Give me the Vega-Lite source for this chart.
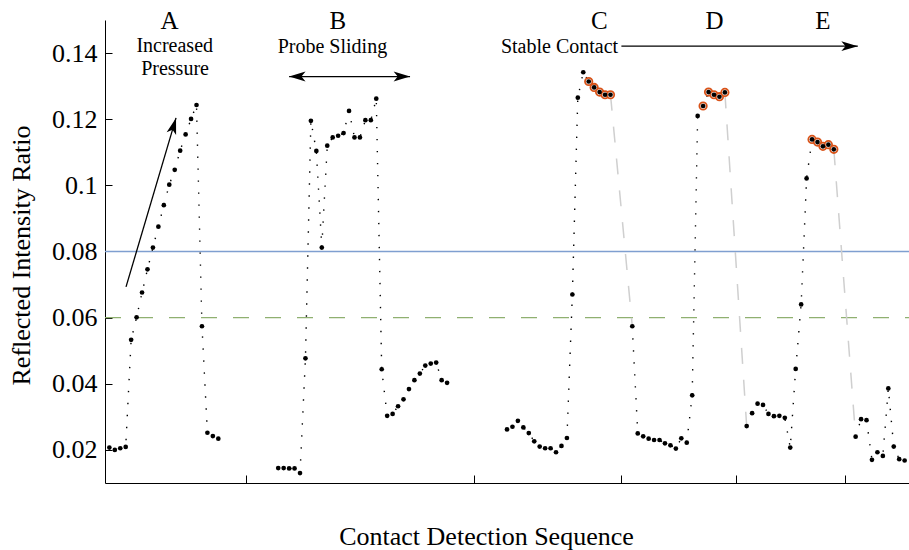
{
  "$schema": "https://vega.github.io/schema/vega-lite/v6.json",
  "width": 804,
  "height": 463,
  "autosize": {"type": "none"},
  "padding": {"left": 105, "top": 20, "right": 0, "bottom": 67},
  "background": "white",
  "config": {"view": {"stroke": null}, "font": "Liberation Serif"},
  "datasets": {
    "pts": [
      {"i":0,"v":0.0207,"g":"A","hl":0},{"i":1,"v":0.0200,"g":"A","hl":0},{"i":2,"v":0.0205,"g":"A","hl":0},{"i":3,"v":0.0209,"g":"A","hl":0},
      {"i":4,"v":0.0533,"g":"A","hl":0},{"i":5,"v":0.0601,"g":"A","hl":0},{"i":6,"v":0.0676,"g":"A","hl":0},{"i":7,"v":0.0746,"g":"A","hl":0},
      {"i":8,"v":0.0812,"g":"A","hl":0},{"i":9,"v":0.0875,"g":"A","hl":0},{"i":10,"v":0.0940,"g":"A","hl":0},{"i":11,"v":0.1002,"g":"A","hl":0},
      {"i":12,"v":0.1047,"g":"A","hl":0},{"i":13,"v":0.1105,"g":"A","hl":0},{"i":14,"v":0.1154,"g":"A","hl":0},{"i":15,"v":0.1201,"g":"A","hl":0},
      {"i":16,"v":0.1243,"g":"A","hl":0},{"i":17,"v":0.0574,"g":"A","hl":0},{"i":18,"v":0.0252,"g":"A","hl":0},{"i":19,"v":0.0242,"g":"A","hl":0},
      {"i":20,"v":0.0234,"g":"A","hl":0},
      {"i":31,"v":0.0145,"g":"B","hl":0},{"i":32,"v":0.0145,"g":"B","hl":0},{"i":33,"v":0.0144,"g":"B","hl":0},{"i":34,"v":0.0144,"g":"B","hl":0},
      {"i":35,"v":0.0130,"g":"B","hl":0},{"i":36,"v":0.0477,"g":"B","hl":0},{"i":37,"v":0.1195,"g":"B","hl":0},{"i":38,"v":0.1104,"g":"B","hl":0},
      {"i":39,"v":0.0812,"g":"B","hl":0},{"i":40,"v":0.1120,"g":"B","hl":0},{"i":41,"v":0.1145,"g":"B","hl":0},{"i":42,"v":0.1150,"g":"B","hl":0},
      {"i":43,"v":0.1158,"g":"B","hl":0},{"i":44,"v":0.1225,"g":"B","hl":0},{"i":45,"v":0.1145,"g":"B","hl":0},{"i":46,"v":0.1145,"g":"B","hl":0},
      {"i":47,"v":0.1197,"g":"B","hl":0},{"i":48,"v":0.1197,"g":"B","hl":0},{"i":49,"v":0.1262,"g":"B","hl":0},{"i":50,"v":0.0444,"g":"B","hl":0},
      {"i":51,"v":0.0303,"g":"B","hl":0},{"i":52,"v":0.0309,"g":"B","hl":0},{"i":53,"v":0.0332,"g":"B","hl":0},{"i":54,"v":0.0353,"g":"B","hl":0},
      {"i":55,"v":0.0384,"g":"B","hl":0},{"i":56,"v":0.0411,"g":"B","hl":0},{"i":57,"v":0.0431,"g":"B","hl":0},{"i":58,"v":0.0455,"g":"B","hl":0},
      {"i":59,"v":0.0461,"g":"B","hl":0},{"i":60,"v":0.0464,"g":"B","hl":0},{"i":61,"v":0.0411,"g":"B","hl":0},{"i":62,"v":0.0403,"g":"B","hl":0},
      {"i":73,"v":0.0262,"g":"C","hl":0},{"i":74,"v":0.0270,"g":"C","hl":0},{"i":75,"v":0.0288,"g":"C","hl":0},{"i":76,"v":0.0268,"g":"C","hl":0},
      {"i":77,"v":0.0251,"g":"C","hl":0},{"i":78,"v":0.0226,"g":"C","hl":0},{"i":79,"v":0.0210,"g":"C","hl":0},{"i":80,"v":0.0205,"g":"C","hl":0},
      {"i":81,"v":0.0205,"g":"C","hl":0},{"i":82,"v":0.0193,"g":"C","hl":0},{"i":83,"v":0.0212,"g":"C","hl":0},{"i":84,"v":0.0236,"g":"C","hl":0},
      {"i":85,"v":0.0670,"g":"C","hl":0},{"i":86,"v":0.1265,"g":"C","hl":0},{"i":87,"v":0.1342,"g":"C","hl":0},{"i":88,"v":0.1314,"g":"C","hl":1},
      {"i":89,"v":0.1296,"g":"C","hl":1},{"i":90,"v":0.1282,"g":"C","hl":1},{"i":91,"v":0.1274,"g":"C","hl":1},{"i":92,"v":0.1274,"g":"C","hl":1},
      {"i":96,"v":0.0574,"g":"D","hl":0},{"i":97,"v":0.0250,"g":"D","hl":0},{"i":98,"v":0.0241,"g":"D","hl":0},{"i":99,"v":0.0234,"g":"D","hl":0},
      {"i":100,"v":0.0230,"g":"D","hl":0},{"i":101,"v":0.0230,"g":"D","hl":0},{"i":102,"v":0.0220,"g":"D","hl":0},{"i":103,"v":0.0214,"g":"D","hl":0},
      {"i":104,"v":0.0204,"g":"D","hl":0},{"i":105,"v":0.0235,"g":"D","hl":0},{"i":106,"v":0.0222,"g":"D","hl":0},{"i":107,"v":0.0365,"g":"D","hl":0},
      {"i":108,"v":0.1210,"g":"D","hl":0},{"i":109,"v":0.1240,"g":"D","hl":1},{"i":110,"v":0.1282,"g":"D","hl":1},{"i":111,"v":0.1274,"g":"D","hl":1},
      {"i":112,"v":0.1268,"g":"D","hl":1},{"i":113,"v":0.1281,"g":"D","hl":1},
      {"i":117,"v":0.0272,"g":"E","hl":0},{"i":118,"v":0.0311,"g":"E","hl":0},{"i":119,"v":0.0340,"g":"E","hl":0},{"i":120,"v":0.0336,"g":"E","hl":0},
      {"i":121,"v":0.0309,"g":"E","hl":0},{"i":122,"v":0.0302,"g":"E","hl":0},{"i":123,"v":0.0303,"g":"E","hl":0},{"i":124,"v":0.0297,"g":"E","hl":0},
      {"i":125,"v":0.0207,"g":"E","hl":0},{"i":126,"v":0.0445,"g":"E","hl":0},{"i":127,"v":0.0640,"g":"E","hl":0},{"i":128,"v":0.1021,"g":"E","hl":0},
      {"i":129,"v":0.1139,"g":"E","hl":1},{"i":130,"v":0.1131,"g":"E","hl":1},{"i":131,"v":0.1118,"g":"E","hl":1},{"i":132,"v":0.1123,"g":"E","hl":1},
      {"i":133,"v":0.1109,"g":"E","hl":1},
      {"i":137,"v":0.0240,"g":"F","hl":0},{"i":138,"v":0.0293,"g":"F","hl":0},{"i":139,"v":0.0290,"g":"F","hl":0},{"i":140,"v":0.0170,"g":"F","hl":0},
      {"i":141,"v":0.0193,"g":"F","hl":0},{"i":142,"v":0.0182,"g":"F","hl":0},{"i":143,"v":0.0386,"g":"F","hl":0},{"i":144,"v":0.0210,"g":"F","hl":0},
      {"i":145,"v":0.0172,"g":"F","hl":0},{"i":146,"v":0.0168,"g":"F","hl":0}
    ],
    "gray": [
      {"i":92,"v":0.1274,"s":"c"},{"i":96,"v":0.0574,"s":"c"},
      {"i":113,"v":0.1281,"s":"d"},{"i":117,"v":0.0272,"s":"d"},
      {"i":133,"v":0.1109,"s":"e"},{"i":137,"v":0.0240,"s":"e"}
    ],
    "hlines": [
      {"i":-0.8,"i2":146.8,"v":0.08,"k":"blue"},
      {"i":-0.8,"i2":146.8,"v":0.06,"k":"green"}
    ],
    "arrows": [
      {"i":3.06,"v":0.0693,"i2":12.24,"v2":0.1204},
      {"i":33.0,"v":0.1329,"i2":55.2,"v2":0.1329},
      {"i":94.0,"v":0.1421,"i2":137.4,"v2":0.1421}
    ],
    "heads": [
      {"i":12.24,"v":0.1204,"ang":-73.5},
      {"i":33.0,"v":0.1329,"ang":180},
      {"i":55.2,"v":0.1329,"ang":0},
      {"i":137.4,"v":0.1421,"ang":0}
    ],
    "labels": [
      {"i":11.05,"v":0.1472,"t":"A","big":1},
      {"i":12.0,"v":0.1402,"t":"Increased","big":0},
      {"i":12.06,"v":0.1334,"t":"Pressure","big":0},
      {"i":41.96,"v":0.1472,"t":"B","big":1},
      {"i":40.95,"v":0.1399,"t":"Probe Sliding","big":0},
      {"i":89.94,"v":0.1472,"t":"C","big":1},
      {"i":82.64,"v":0.1399,"t":"Stable Contact","big":0},
      {"i":111.1,"v":0.1472,"t":"D","big":1},
      {"i":131.0,"v":0.1472,"t":"E","big":1}
    ]
  },
  "encoding": {
    "x": {
      "field": "i", "type": "quantitative",
      "scale": {"domain": [-0.8, 146.8], "nice": false, "zero": false},
      "axis": {
        "values": [25, 67, 94, 115, 135], "labels": false, "grid": false,
        "tickSize": -8, "tickColor": "black", "domainColor": "black", "tickWidth": 1, "domainWidth": 1,
        "title": "Contact Detection Sequence", "titleFont": "Liberation Serif", "titleFontSize": 26,
        "titleFontWeight": "normal", "titleColor": "black",
        "titleX": 381, "titleY": 53, "titleBaseline": "middle", "titleAnchor": "middle", "titleAlign": "center"
      }
    },
    "y": {
      "field": "v", "type": "quantitative",
      "scale": {"domain": [0.01, 0.15], "nice": false, "zero": false},
      "axis": {
        "values": [0.02, 0.04, 0.06, 0.08, 0.1, 0.12, 0.14], "format": ".2~f", "grid": false,
        "tickSize": -7, "tickColor": "black", "domainColor": "black", "tickWidth": 1, "domainWidth": 1,
        "labelFont": "Liberation Serif", "labelFontSize": 26, "labelColor": "black", "labelPadding": 15,
        "title": "Reflected Intensity Ratio", "titleFont": "Liberation Serif", "titleFontSize": 26,
        "titleFontWeight": "normal", "titleColor": "black",
        "titleX": -84, "titleY": 235, "titleAngle": -90, "titleBaseline": "middle", "titleAlign": "center"
      }
    }
  },
  "layer": [
    {
      "data": {"name": "hlines"},
      "transform": [{"filter": "datum.k == 'blue'"}],
      "mark": {"type": "rule", "color": "#7f9fd0", "strokeWidth": 1.6},
      "encoding": {"x2": {"field": "i2"}}
    },
    {
      "data": {"name": "hlines"},
      "transform": [{"filter": "datum.k == 'green'"}],
      "mark": {"type": "rule", "color": "#8fb070", "strokeWidth": 1.4, "strokeDash": [16, 16]},
      "encoding": {"x2": {"field": "i2"}}
    },
    {
      "data": {"name": "gray"},
      "mark": {"type": "line", "color": "#cfcfcf", "strokeWidth": 1.5, "strokeDash": [16, 16]},
      "encoding": {"detail": {"field": "s"}}
    },
    {
      "data": {"name": "pts"},
      "mark": {"type": "line", "color": "black", "strokeWidth": 1.4, "strokeDash": [1.4, 10.6], "strokeCap": "butt"},
      "encoding": {"detail": {"field": "g"}}
    },
    {
      "data": {"name": "arrows"},
      "mark": {"type": "rule", "color": "black", "strokeWidth": 1.3},
      "encoding": {"x2": {"field": "i2"}, "y2": {"field": "v2"}}
    },
    {
      "data": {"name": "heads"},
      "mark": {"type": "point", "shape": "M0,0L-2,-0.6L-1.5,0L-2,0.6Z", "filled": true, "color": "black", "opacity": 1, "size": 270},
      "encoding": {"angle": {"field": "ang", "type": "quantitative", "scale": null}}
    },
    {
      "data": {"name": "labels"},
      "mark": {"type": "text", "font": "Liberation Serif", "align": "center", "baseline": "alphabetic", "color": "black"},
      "encoding": {
        "text": {"field": "t"},
        "size": {"field": "big", "type": "nominal", "scale": {"domain": [0, 1], "range": [20, 25]}, "legend": null}
      }
    },
    {
      "data": {"name": "pts"},
      "transform": [{"filter": "datum.hl == 1"}],
      "mark": {"type": "point", "shape": "circle", "filled": false, "color": "#D95319", "fill": "#f3f3f3", "fillOpacity": 1, "strokeWidth": 1.8, "size": 55, "opacity": 1}
    },
    {
      "data": {"name": "pts"},
      "mark": {"type": "point", "shape": "circle", "filled": true, "color": "black", "size": 22, "opacity": 1}
    }
  ]
}
